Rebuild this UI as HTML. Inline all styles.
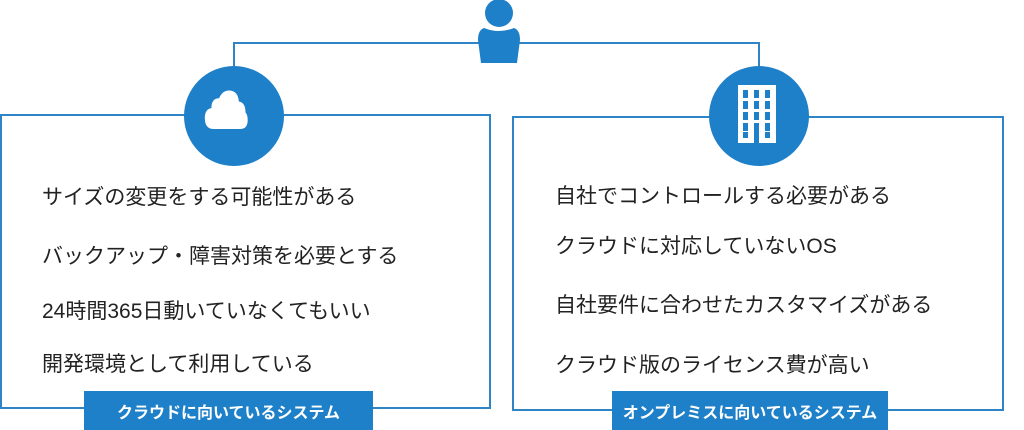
<!DOCTYPE html>
<html><head><meta charset="utf-8"><style>
body{margin:0;width:1024px;height:430px;background:#fff;position:relative;overflow:hidden;font-family:"Liberation Sans","Noto Sans CJK JP",sans-serif;}
.a{position:absolute}
.box{position:absolute;border:2px solid #2f84c6;box-sizing:border-box}
.t{position:absolute;font-size:21px;color:#222;white-space:nowrap;line-height:1}
.lab{position:absolute;background:#1e80c8;color:#fff;font-weight:bold;font-size:16px;display:flex;align-items:center;justify-content:center}
</style></head><body>
<div class="a" style="left:233px;top:42px;width:527px;height:2px;background:#2f84c6"></div>
<div class="a" style="left:233px;top:42px;width:2px;height:24px;background:#2f84c6"></div>
<div class="a" style="left:758px;top:42px;width:2px;height:24px;background:#2f84c6"></div>
<svg class="a" style="left:474px;top:0" width="50" height="64"><ellipse cx="25" cy="13" rx="14" ry="14" fill="#1e80c8"/><path d="M10 28 Q25 34 40 28 Q46 30 46 40 L43 63 L7 63 L4 40 Q4 30 10 28Z" fill="#1e80c8"/></svg>
<div class="box" style="left:0;top:114px;width:491px;height:295px"></div>
<div class="box" style="left:512px;top:116px;width:492px;height:295px"></div>
<svg class="a" style="left:183px;top:65px" width="102" height="102"><circle cx="51" cy="51" r="50" fill="#1e80c8"/><path d="M26 60 Q18 60 18 50 Q18 42 24 41 Q24 32 31 32 Q34 25 40 25 Q48 25 49 35 Q55 36 55 45 Q57 47 57 52 Q57 60 50 60Z" fill="#fff" transform="translate(2,-2) scale(1.1)"/></svg>
<svg class="a" style="left:708px;top:65px" width="102" height="102"><circle cx="51" cy="51" r="50" fill="#1e80c8"/><rect x="30" y="20" width="38" height="58" fill="#fff"/><g fill="#1e80c8"><rect x="35" y="25" width="5" height="8"/><rect x="46" y="25" width="5" height="8"/><rect x="57" y="25" width="5" height="8"/><rect x="35" y="36" width="5" height="8"/><rect x="46" y="36" width="5" height="8"/><rect x="57" y="36" width="5" height="8"/><rect x="35" y="47" width="5" height="8"/><rect x="46" y="47" width="5" height="8"/><rect x="57" y="47" width="5" height="8"/><rect x="35" y="58" width="5" height="8"/><rect x="46" y="58" width="5" height="8"/><rect x="57" y="58" width="5" height="8"/><rect x="46" y="66" width="5" height="12"/><rect x="35" y="67" width="5" height="6"/><rect x="57" y="67" width="5" height="6"/></g></svg>
<div class="t" style="left:42px;top:187px">サイズの変更をする可能性がある</div>
<div class="t" style="left:42px;top:246px">バックアップ・障害対策を必要とする</div>
<div class="t" style="left:42px;top:301px">24時間365日動いていなくてもいい</div>
<div class="t" style="left:42px;top:354px">開発環境として利用している</div>
<div class="t" style="left:555px;top:186px">自社でコントロールする必要がある</div>
<div class="t" style="left:555px;top:236px">クラウドに対応していないOS</div>
<div class="t" style="left:555px;top:295px">自社要件に合わせたカスタマイズがある</div>
<div class="t" style="left:555px;top:355px">クラウド版のライセンス費が高い</div>
<div class="lab" style="left:84px;top:391px;width:289px;height:39px">クラウドに向いているシステム</div>
<div class="lab" style="left:612px;top:391px;width:276px;height:39px">オンプレミスに向いているシステム</div>
</body></html>
